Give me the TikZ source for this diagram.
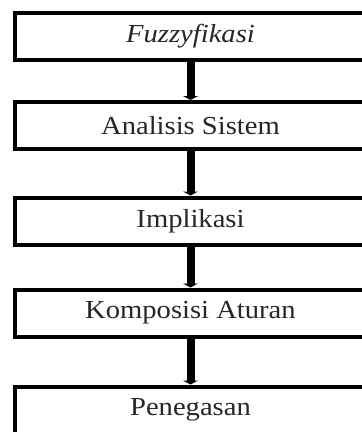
\documentclass[tikz,border=0pt]{standalone}
\usepackage{fontspec}
\setmainfont{Liberation Serif}[FakeStretch=1.1]
\usetikzlibrary{arrows.meta}
\begin{document}
\begin{tikzpicture}[x=1pt,y=1pt,
  stepbox/.style={draw=black,line width=4pt,rectangle,minimum width=351pt,minimum height=47pt,inner sep=0pt,fill=white,
    font=\fontsize{26}{30}\selectfont,text=black!85},
  flow/.style={line width=8pt,-{Triangle[width=15pt,length=4pt]}}]
\useasboundingbox (0,0) rectangle (362,-432);
\fill[white] (0,0) rectangle (362,-432);
\begin{scope}
\clip (0,0) rectangle (362,-432);
\node[stepbox] (b1) at (190.5,-36) {\itshape Fuzzyfikasi};
\node[stepbox] (b2) at (190.5,-125.5) {Analisis Sistem};
\node[stepbox] (b3) at (190.5,-221) {Implikasi};
\node[stepbox] (b4) at (190.5,-313) {Komposisi Aturan};
\node[stepbox] (b5) at (190.5,-410) {Penegasan};
\draw[flow] (b1.south) -- (b2.north);
\draw[flow] (b2.south) -- (b3.north);
\draw[flow] (b3.south) -- (b4.north);
\draw[flow] (b4.south) -- (b5.north);
\end{scope}
\end{tikzpicture}
\end{document}
